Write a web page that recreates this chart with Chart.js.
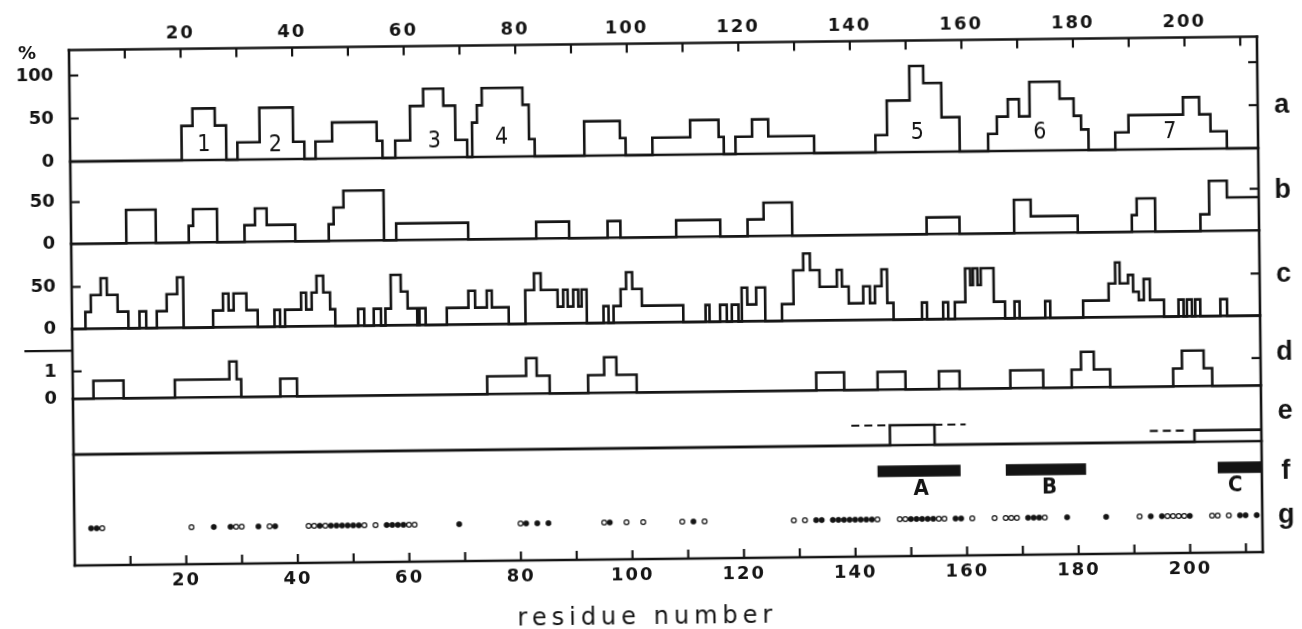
<!DOCTYPE html>
<html>
<head>
<meta charset="utf-8">
<script src="https://cdn.jsdelivr.net/npm/chart.js@4.4.1/dist/chart.umd.min.js"></script>
<style>
html,body{margin:0;padding:0;background:#fff;overflow:hidden;}
#wrap{position:absolute;left:0;top:0;width:1302px;height:629px;transform:rotate(-0.65deg);transform-origin:651px 314px;}
canvas{display:block;}
</style>
</head>
<body>
<div id="wrap"><canvas id="c" width="1302" height="629"></canvas></div>
<script>
// ---------------- data ----------------
const residueTicks = [20, 40, 60, 80, 100, 120, 140, 160, 180, 200];

// a: % (step profile, value holds from x[i] to x[i+1])
const aX = [0, 20, 22, 26, 28, 30, 34, 40, 42, 44, 47, 55, 56, 58.3, 61, 63.4, 67, 69.1, 71.2,
  72.1, 73, 73.9, 81.2, 82.3, 83.3, 92.2, 98.6, 99.6, 104.4, 111.2, 116.3, 117.2,
  119.3, 122.3, 125.2, 133.4, 144.4, 146.5, 150.6, 153.1, 156.3, 159.5,
  164.6, 166.2, 168.2, 170.2, 172.1, 177.5, 180.0, 181.3, 182.6,
  187.4, 189.8, 199.6, 202.5, 204.5, 207.4, 213];
const aY = [0, 40, 60, 40, 0, 20, 60, 20, 0, 20, 42, 20, 0, 20, 60, 80, 60, 20, 0,
  40, 60, 80, 60, 20, 0, 40, 20, 0, 20, 40, 20, 0,
  20, 40, 20, 0, 20, 60, 100, 80, 40, 0,
  20, 40, 60, 40, 80, 60, 40, 24, 0,
  20, 40, 60, 40, 20, 0, 0];

// b
const bX = [0, 9.9, 15.2, 21.1, 21.9, 26.2, 31.1, 33, 35.1, 40.2, 46.2, 47.1, 48.9, 56.1, 58.3, 71.2,
  83.4, 89.3, 96.2, 98.5, 108.5, 116.4, 121.3, 124.2, 129.3, 153.4, 159.3,
  169.1, 172.1, 180.5, 190.2, 191.1, 194.4, 202.5, 204.1, 207.3, 213];
const bY = [0, 40, 0, 20, 40, 0, 20, 40, 20, 0, 20, 40, 60, 0, 20, 0,
  20, 0, 20, 0, 20, 0, 20, 40, 0, 20, 0,
  40, 20, 0, 20, 40, 0, 20, 60, 40, 40];

// c
const cX = [0, 2.4, 3.4, 5.2, 6.3, 8.2, 10.1, 12.1, 13.3, 15.2, 17, 18.9, 20,
  25.3, 27.1, 28.1, 29, 31.3, 33.3, 36.3, 37.3,
  38.2, 41.1, 42, 43, 43.9, 45.1, 46.3, 47.2, 51.3, 52.4, 54.1, 55.4,
  56.2, 57.2, 59, 60.2, 61.9, 62.3, 63.4,
  67.2, 71.1, 72.3, 74.4, 75.3, 78.3,
  81.3, 82.9, 84.1, 87.1, 88.1, 88.9, 89.9, 90.8, 91.4, 92.3,
  95.3, 96.2, 97.1, 98.4, 99.4, 100.5, 102.2, 109.6,
  113.6, 114.3, 116.2, 117.4, 118.3, 119.5, 120.1, 121.1, 122.7, 124.3,
  127.3, 129.4, 131.2, 132.4, 134.1, 137.2, 138.1, 139.3, 141.9, 143.1, 144, 145.2, 146.2, 147.3,
  152.4, 153.3, 156.2, 157.1, 158.3, 160.2, 161.1, 161.6, 162.4, 163, 165.3, 167.3,
  169, 169.9, 174.5, 175.4,
  181.3, 185.9, 187.1, 187.9, 189.4, 190.3, 191.3, 192.2, 193.3, 195.8,
  198.4, 199.3, 199.9, 200.8, 201.4, 202.3, 205.9, 207.1, 213];
const cY = [0, 20, 40, 60, 40, 20, 0, 20, 0, 20, 40, 60, 0,
  20, 40, 20, 40, 20, 0, 20, 0,
  20, 40, 20, 40, 60, 40, 20, 0, 20, 0, 20, 0,
  20, 60, 40, 20, 0, 20, 0,
  20, 40, 20, 40, 20, 0,
  40, 60, 40, 20, 40, 20, 40, 20, 40, 0,
  20, 0, 20, 40, 60, 40, 20, 0,
  20, 0, 20, 0, 20, 0, 40, 20, 40, 0,
  20, 60, 80, 60, 40, 60, 40, 20, 40, 20, 40, 60, 20, 0,
  20, 0, 20, 0, 20, 60, 40, 60, 40, 60, 20, 0,
  20, 0, 20, 0,
  20, 40, 65, 40, 50, 30, 20, 45, 20, 0,
  20, 0, 20, 0, 20, 0, 20, 0, 0];

// d
const dX = [0, 3.7, 9.1, 18.3, 28.1, 29.4, 30.2, 37.2, 40.2, 74.3, 81.3, 83.2, 85.5,
  92.4, 95.3, 97.5, 101.1, 133.3, 138.3, 144.3, 149.3, 155.3, 159, 168.1, 174,
  179.1, 180.8, 183.1, 186, 197.3, 198.9, 202.8, 204.3, 213];
const dY = [0, 0.65, 0, 0.65, 1.3, 0.65, 0, 0.65, 0, 0.65, 1.3, 0.65, 0,
  0.65, 1.3, 0.65, 0, 0.65, 0, 0.65, 0, 0.65, 0, 0.65, 0,
  0.65, 1.3, 0.65, 0, 0.65, 1.3, 0.65, 0, 0];

// e (solid profile and dashed extensions)
const eX = [0, 146.4, 154.4, 201, 213];
const eY = [0, 1, 0, 0.57, 0.57];
const eDashX = [139.5, 146.4, 150, 154.4, 160, 176, 193, 199.2];
const eDashY = [1, 1, null, 1, 1, null, 0.57, 0.57];

// f (bars)
const fStart = [144.1, 167.1, 205.1];
const fEnd = [159.0, 181.5, 213];
const fLabels = ['A', 'B', 'C'];
const fLabelX = [151.9, 174.9, 208.2];

// g (dots)
const gFilled = [3, 4, 25, 28, 33, 36, 44, 46, 47, 48, 49, 50, 51, 56, 57, 58, 59, 69, 81, 83, 85, 96, 111,
  133, 134, 136, 137, 138, 139, 140, 141, 142, 143, 150, 151, 152, 153, 154, 158, 159,
  171, 172, 173, 178, 185, 193, 195, 200, 209, 210, 212];
const gOpen = [5, 21, 29, 30, 35, 42, 43, 45, 52, 54, 60, 61, 80, 95, 99, 102, 109, 113, 129, 131, 144,
  148, 149, 155, 156, 161, 165, 167, 168, 169, 174, 191, 196, 197, 198, 199, 204, 205, 207];

// numbers inside panel a
const aNumbers = ['1', '2', '3', '4', '5', '6', '7'];
const aNumberX = [24.0, 36.8, 65.3, 77.4, 151.9, 173.9, 197.2];
const aNumberY = [17.4, 16.5, 19.1, 21.7, 22.1, 20.5, 19.9];

// axis labels on the left
const aTickLabels = [0, 50, 100];
const bTickLabels = [0, 50];
const cTickLabels = [0, 50];
const dTickLabels = [0, 1];
const rowLetters = ['a', 'b', 'c', 'd', 'e', 'f', 'g'];

// ---------------- layout ----------------
const INK = '#141414';
const AREA_TOP = 43.5, AREA_BOTTOM = 559, AREA_LEFT = 72, AREA_RIGHT = 1260;
function band(base, k) { return { min: -(AREA_BOTTOM - base) / k, max: (base - AREA_TOP) / k }; }
const pts = (xs, ys) => xs.map((x, i) => ({ x: x, y: ys[i] }));

const fData = [];
fStart.forEach((s, i) => {
  fData.push({ x: s, y: 0 }, { x: fEnd[i], y: 0 });
  if (i < fStart.length - 1) fData.push({ x: (fEnd[i] + fStart[i + 1]) / 2, y: null });
});

const stepDs = (xs, ys, axis) => ({
  type: 'line', data: pts(xs, ys), yAxisID: axis, xAxisID: 'x', stepped: 'before',
  borderColor: INK, borderWidth: 2.6, pointRadius: 0, fill: false, borderJoinStyle: 'miter'
});

const tickFont = { family: 'DejaVu Sans', weight: 'bold', size: 18 };
const xTickCb = v => residueTicks.includes(v) ? String(v) : '';

const decor = {
  id: 'decor',
  beforeDraw(chart) { chart.ctx.letterSpacing = '2px'; },
  afterDraw(chart) {
    const ctx = chart.ctx;
    const { left, right, top, bottom } = chart.chartArea;
    const s = chart.scales;
    const line = (x1, y1, x2, y2) => { ctx.beginPath(); ctx.moveTo(x1, y1); ctx.lineTo(x2, y2); ctx.stroke(); };
    ctx.save();
    ctx.letterSpacing = '0px';
    ctx.strokeStyle = INK; ctx.fillStyle = INK; ctx.lineWidth = 2.6; ctx.lineCap = 'square';
    // frame
    line(left, top, right, top); line(left, bottom, right, bottom);
    line(left, top, left, bottom); line(right, top, right, bottom);
    // panel separators
    ['ya', 'yb', 'yc', 'yd', 'ye'].forEach(id => { const y = s[id].getPixelForValue(0); line(left, y, right, y); });
    // x ticks (inward)
    ctx.lineWidth = 2.2; ctx.lineCap = 'butt';
    for (let v = 10; v <= 210; v += 10) {
      const px = s.x.getPixelForValue(v);
      line(px, top, px, top + 9);
      line(px, bottom, px, bottom - 9);
    }
    // y ticks (inward, both sides)
    const yt = [['ya', [50, 100]], ['yb', [50]], ['yc', [50]], ['yd', [1]]];
    yt.forEach(([id, vals]) => vals.forEach(v => {
      const y = s[id].getPixelForValue(v);
      line(left, y, left + 9, y); line(right, y, right - 9, y);
    }));
    // small mark left of panel d
    ctx.lineWidth = 2.4;
    line(left - 48, s.yd.getPixelForValue(1.76), left, s.yd.getPixelForValue(1.76));
    // left labels
    ctx.font = 'bold 18px "DejaVu Sans"';
    ctx.textAlign = 'right'; ctx.textBaseline = 'middle';
    [['ya', aTickLabels], ['yb', bTickLabels], ['yc', cTickLabels], ['yd', dTickLabels]].forEach(([id, vals]) => {
      vals.forEach(v => ctx.fillText(String(v), left - 16, s[id].getPixelForValue(v)));
    });
    ctx.textAlign = 'center';
    ctx.fillText('%', left - 42, top + 4);
    // panel a numbers
    ctx.font = '23px "Liberation Sans Narrow", "DejaVu Sans Condensed", sans-serif';
    aNumbers.forEach((t, i) => ctx.fillText(t, s.x.getPixelForValue(aNumberX[i]), s.ya.getPixelForValue(aNumberY[i])));
    // bar labels
    ctx.font = 'bold 22px "Liberation Sans Narrow", "DejaVu Sans Condensed", sans-serif';
    fLabels.forEach((t, i) => ctx.fillText(t, s.x.getPixelForValue(fLabelX[i]), s.yf.getPixelForValue(-18)));
    // row letters on the right
    ctx.font = 'bold 27px "Liberation Sans", Arial, sans-serif';
    ctx.textBaseline = 'alphabetic';
    const letterBase = [120, 205, 289, 367, 425.5, 485.5, 530];
    rowLetters.forEach((t, i) => ctx.fillText(t, right + 24, letterBase[i]));
    // axis title
    ctx.font = '24px "DejaVu Sans"';
    ctx.letterSpacing = '5px';
    ctx.fillText('residue number', 644, 624);
    ctx.restore();
  }
};

new Chart(document.getElementById('c'), {
  type: 'line',
  data: {
    datasets: [
      stepDs(aX, aY, 'ya'),
      stepDs(bX, bY, 'yb'),
      stepDs(cX, cY, 'yc'),
      stepDs(dX, dY, 'yd'),
      stepDs(eX, eY, 'ye'),
      { type: 'line', data: pts(eDashX, eDashY), yAxisID: 'ye', xAxisID: 'x', borderColor: INK, borderWidth: 2.2,
        borderDash: [8, 5], pointRadius: 0, spanGaps: false, fill: false },
      { type: 'line', data: fData, yAxisID: 'yf', xAxisID: 'x', borderColor: INK, borderWidth: 11.5,
        borderCapStyle: 'butt', pointRadius: 0, spanGaps: false, fill: false },
      { type: 'line', data: gFilled.map(r => ({ x: r, y: 0 })), yAxisID: 'yg', xAxisID: 'x', showLine: false,
        pointRadius: 2.7, pointBackgroundColor: INK, pointBorderColor: INK, pointBorderWidth: 0.5 },
      { type: 'line', data: gOpen.map(r => ({ x: r, y: 0 })), yAxisID: 'yg', xAxisID: 'x', showLine: false,
        pointRadius: 2.4, pointBackgroundColor: '#fff', pointBorderColor: INK, pointBorderWidth: 1.2 }
    ]
  },
  options: {
    responsive: false, animation: false, devicePixelRatio: 1,
    layout: { padding: { left: AREA_LEFT, right: 1302 - AREA_RIGHT, top: 0, bottom: 0 } },
    plugins: { legend: { display: false }, tooltip: { enabled: false } },
    scales: {
      x: { type: 'linear', position: 'bottom', min: 0, max: 213,
        ticks: { stepSize: 10, includeBounds: false, autoSkip: false, maxRotation: 0, callback: xTickCb,
          font: tickFont, color: INK, padding: 6 },
        grid: { display: false, drawTicks: false }, border: { display: false },
        afterFit: sc => { sc.height = 629 - AREA_BOTTOM; } },
      xTop: { type: 'linear', position: 'top', min: 0, max: 213,
        ticks: { stepSize: 10, includeBounds: false, autoSkip: false, maxRotation: 0, callback: xTickCb,
          font: tickFont, color: INK, padding: 4 },
        grid: { display: false, drawTicks: false }, border: { display: false },
        afterFit: sc => { sc.height = AREA_TOP; } },
      ya: Object.assign({ type: 'linear', display: false }, band(155, 0.86)),
      yb: Object.assign({ type: 'linear', display: false }, band(237.3, 0.834)),
      yc: Object.assign({ type: 'linear', display: false }, band(322.4, 0.84)),
      yd: Object.assign({ type: 'linear', display: false }, band(392.2, 27.3)),
      ye: Object.assign({ type: 'linear', display: false }, band(448, 20)),
      yf: Object.assign({ type: 'linear', display: false }, band(474, 1)),
      yg: Object.assign({ type: 'linear', display: false }, band(522, 1))
    }
  },
  plugins: [decor]
});
</script>
</body>
</html>
